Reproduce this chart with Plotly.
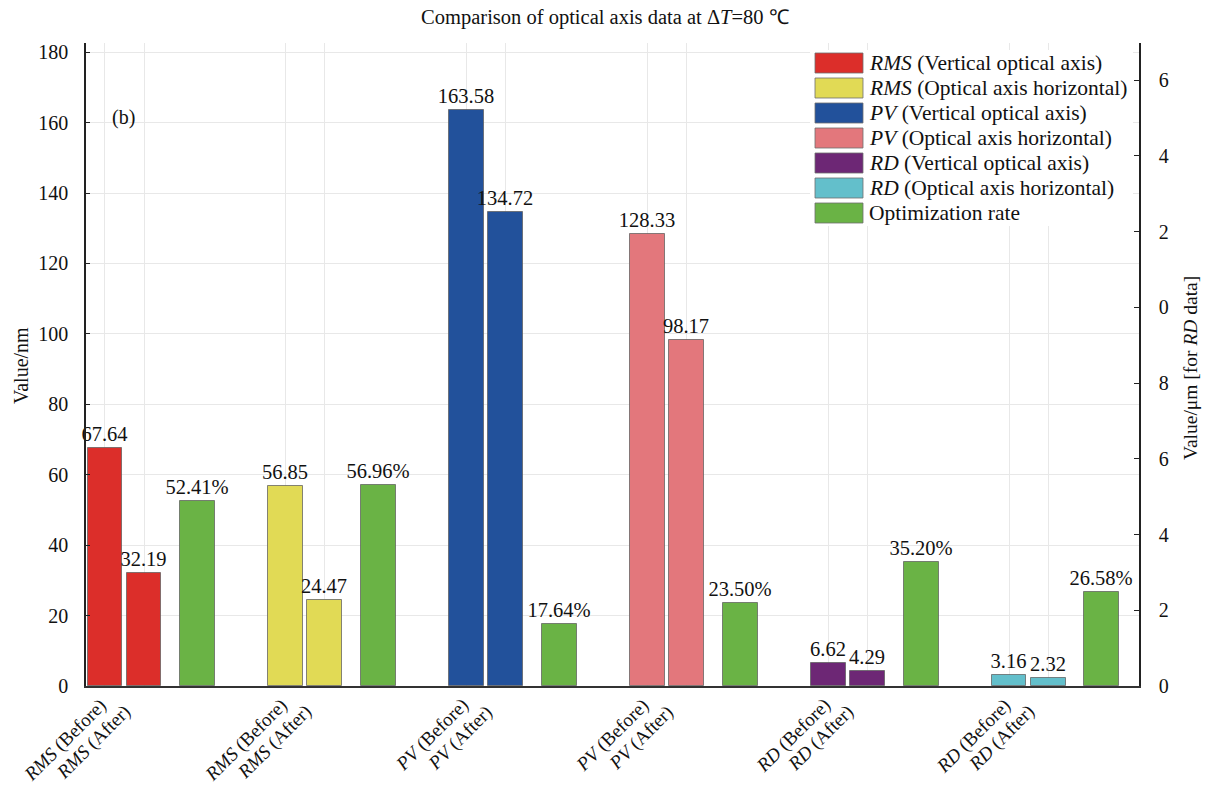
import plotly.graph_objects as go

# Values for each measured quantity: before / after optimisation and the optimisation rate (%)
series_names = [
    "<i>RMS</i> (Vertical optical axis)",
    "<i>RMS</i> (Optical axis horizontal)",
    "<i>PV</i> (Vertical optical axis)",
    "<i>PV</i> (Optical axis horizontal)",
    "<i>RD</i> (Vertical optical axis)",
    "<i>RD</i> (Optical axis horizontal)",
]
metric_labels = ["<i>RMS</i>", "<i>RMS</i>", "<i>PV</i>", "<i>PV</i>", "<i>RD</i>", "<i>RD</i>"]
before_vals = [67.64, 56.85, 163.58, 128.33, 6.62, 3.16]
after_vals = [32.19, 24.47, 134.72, 98.17, 4.29, 2.32]
rate_vals = [52.41, 56.96, 17.64, 23.50, 35.20, 26.58]
rate_name = "Optimization rate"

series_colors = ["#DC2E2A", "#E1DA55", "#22519B", "#E3777C", "#6D2775", "#63BFCB"]
rate_color = "#6AB345"

# Layout of bars inside each group (group spacing = 1)
OFF_BEFORE, OFF_AFTER, OFF_RATE = 0.0, 0.216, 0.514
BAR_W = 0.193

FONT = "Liberation Serif"
outline = dict(color="rgba(95,95,95,0.75)", width=1)
label_font = dict(family=FONT, size=20.5, color="#111")

fig = go.Figure()

tickvals, ticktext = [], []
for g, (name, col) in enumerate(zip(series_names, series_colors)):
    xs = [g + OFF_BEFORE, g + OFF_AFTER]
    ys = [before_vals[g], after_vals[g]]
    fig.add_trace(go.Bar(
        x=xs, y=ys, width=BAR_W, name=name,
        marker=dict(color=col, line=outline),
        text=[f"{v:.2f}" for v in ys], textposition="outside",
        constraintext="none", cliponaxis=False,
        textfont=label_font, showlegend=False,
    ))
    tickvals += xs
    ticktext += [f"{metric_labels[g]} (Before)", f"{metric_labels[g]} (After)"]

fig.add_trace(go.Bar(
    x=[g + OFF_RATE for g in range(len(rate_vals))], y=rate_vals, width=BAR_W,
    name=rate_name, marker=dict(color=rate_color, line=outline),
    text=[f"{v:.2f}%" for v in rate_vals], textposition="outside",
    constraintext="none", cliponaxis=False,
    textfont=label_font, showlegend=False,
))

# Invisible trace carrying the secondary (right) axis
fig.add_trace(go.Scatter(x=[0], y=[0], yaxis="y2", mode="markers",
                         marker=dict(opacity=0), showlegend=False, hoverinfo="skip"))

L, R, T, B = 86, 66, 43, 108
W, H = 1205, 794
pw, ph = W - L - R, H - T - B


def px(x):
    return (x - L) / pw


def py(y):
    return (H - B - y) / ph


fig.update_layout(
    width=W, height=H,
    margin=dict(l=L, r=R, t=T, b=B, autoexpand=False),
    plot_bgcolor="white", paper_bgcolor="white",
    font=dict(family=FONT, size=18, color="#111"),
    bargap=0,
    title=dict(text="Comparison of optical axis data at Δ<i>T</i>=80 ℃",
               x=0.502, xanchor="center", y=0.979, yanchor="middle",
               font=dict(family=FONT, size=20.5, color="#111")),
    xaxis=dict(
        range=[-0.105, 5.719], tickvals=tickvals, showticklabels=False,
        showgrid=True, gridcolor="#e8e8e8", gridwidth=1,
        showline=True, linecolor="#333", linewidth=1.5, ticks="",
        zeroline=False, automargin=False,
    ),
    yaxis=dict(
        range=[0, 182.6], tickvals=list(range(0, 181, 20)),
        tickfont=dict(family=FONT, size=20),
        showgrid=True, gridcolor="#e8e8e8", gridwidth=1,
        showline=True, linecolor="#222", linewidth=1.5,
        ticks="inside", ticklen=4, tickcolor="#222",
        ticklabelstandoff=12, zeroline=False, automargin=False,
    ),
    yaxis2=dict(
        overlaying="y", side="right", range=[0, 16.98],
        tickvals=list(range(0, 17, 2)),
        ticktext=["0", "2", "4", "6", "8", "0", "2", "4", "6"],
        tickfont=dict(family=FONT, size=20),
        showgrid=False, showline=True, linecolor="#222", linewidth=1.5,
        ticks="inside", ticklen=5, tickcolor="#222",
        ticklabelstandoff=14, zeroline=False, automargin=False,
    ),
)

annotations = [
    dict(text="Value/nm", x=px(21), y=py(366), xref="paper", yref="paper",
         textangle=-90, showarrow=False, font=dict(family=FONT, size=20),
         xanchor="center", yanchor="middle"),
    dict(text="Value/μm [for <i>RD</i> data]", x=px(1190), y=py(368),
         xref="paper", yref="paper", textangle=-90, showarrow=False,
         font=dict(family=FONT, size=19.5), xanchor="center", yanchor="middle"),
    dict(text="(b)", x=px(123), y=py(117), xref="paper", yref="paper",
         showarrow=False, font=dict(family=FONT, size=20),
         xanchor="center", yanchor="middle"),
]

# Slanted category labels under the before/after bars (italic metric names)
for i, (tv, tt) in enumerate(zip(tickvals, ticktext)):
    annotations.append(dict(
        text=tt, x=tv, y=0, xref="x", yref="paper", textangle=-45,
        showarrow=False, xanchor="right", yanchor="top",
        xshift=9 if i % 2 == 0 else -6, yshift=-6 if i % 2 == 0 else -12,
        font=dict(family=FONT, size=19),
    ))

# Legend drawn as a white panel with wide colour swatches
shapes = [dict(type="rect", xref="paper", yref="paper", layer="above",
               x0=px(810), x1=px(1133), y0=py(50), y1=py(226),
               fillcolor="white", line=dict(width=0))]
legend_names = series_names + [rate_name]
legend_colors = series_colors + [rate_color]
for i, (nm, col) in enumerate(zip(legend_names, legend_colors)):
    cy = 63 + 25 * i
    shapes.append(dict(type="rect", xref="paper", yref="paper", layer="above",
                       x0=px(815), x1=px(863), y0=py(cy - 10), y1=py(cy + 10),
                       fillcolor=col, line=dict(color="rgba(110,110,110,0.8)", width=1)))
    annotations.append(dict(text=nm, x=px(867), y=py(cy), xref="paper", yref="paper",
                            showarrow=False, xanchor="left", yanchor="middle",
                            font=dict(family=FONT, size=21.5)))

fig.update_layout(shapes=shapes, annotations=annotations)

fig.write_html("out.html")
